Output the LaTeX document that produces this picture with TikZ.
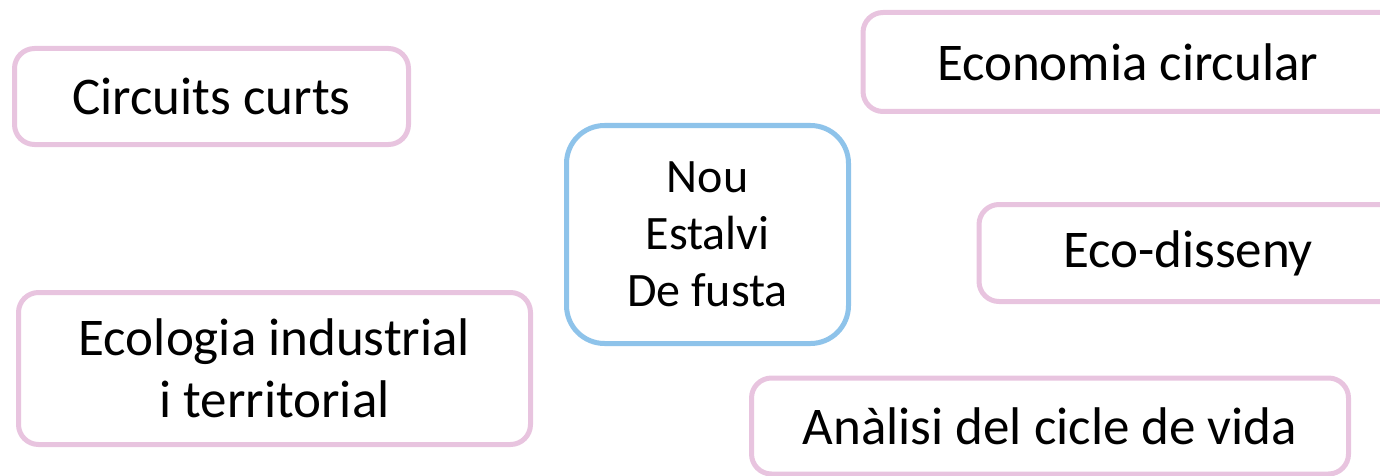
\documentclass[tikz,border=0pt]{standalone}
\usepackage{fontspec}
\setmainfont{Carlito}
\usepackage{tikz}

\definecolor{pinkline}{RGB}{232,196,223}
\definecolor{blueline}{RGB}{142,195,234}

\begin{document}
\begin{tikzpicture}[x=1pt, y=-1pt]
    \tikzstyle{topic}=[rectangle, rounded corners=20pt, draw=pinkline, line width=5pt, fill=white, align=center, font=\fontsize{53}{62}\selectfont, inner sep=0pt]
    \tikzstyle{hub}=[rectangle, rounded corners=38pt, draw=blueline, line width=5pt, fill=white, align=center, font=\fontsize{48}{57}\selectfont, inner sep=0pt]

    \useasboundingbox (0,0) rectangle (1380,476);

    \node[topic, minimum width=394pt, minimum height=96pt] (circuits) at (211.5, 96.5) {Circuits curts};
    \node[topic, minimum width=512pt, minimum height=152pt] (ecologia) at (274.5, 368.5) {Ecologia industrial\\i territorial};
    \node[hub, minimum width=282pt, minimum height=218pt] (nou) at (707.5, 234.5) {Nou\\Estalvi\\De fusta};

    % boxes running off the right side
    \node[topic, anchor=west, align=flush left, text width=420pt, inner xsep=74pt, minimum height=99pt] (economia) at (860.5, 62) {Economia circular};
    \node[topic, anchor=west, align=flush left, text width=300pt, inner xsep=84pt, minimum height=97pt] (disseny) at (976.5, 253) {Eco-disseny};
    \node[topic, minimum width=597pt, minimum height=96pt] (analisi) at (1050, 426) {Anàlisi del cicle de vida};
\end{tikzpicture}
\end{document}
